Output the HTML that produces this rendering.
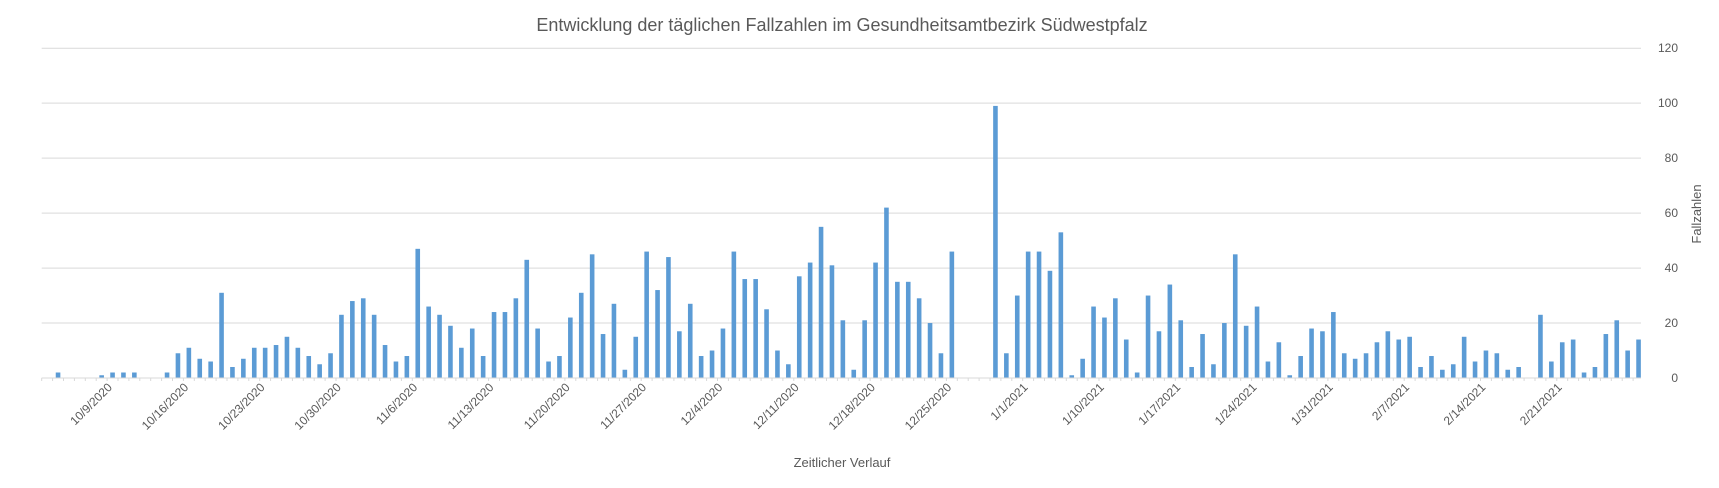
<!DOCTYPE html>
<html><head><meta charset="utf-8"><style>
html,body{margin:0;padding:0;background:#fff;}
svg{display:block;font-family:"Liberation Sans",Arial,sans-serif;}
</style></head><body>
<svg id="chart" width="1719" height="488" viewBox="0 0 1719 488" xmlns="http://www.w3.org/2000/svg">
<text x="842" y="31" text-anchor="middle" font-size="18" fill="#595959">Entwicklung der täglichen Fallzahlen im Gesundheitsamtbezirk Südwestpfalz</text>
<g id="grid"></g>
<g id="bars"></g>
<g id="xticks"></g>
<g id="yticks"></g>
<text x="842" y="467" text-anchor="middle" font-size="13" fill="#595959">Zeitlicher Verlauf</text>
<text transform="translate(1701,214) rotate(-90)" text-anchor="middle" font-size="13" fill="#595959">Fallzahlen</text>
</svg>
<script>
const values = [0,2,0,0,0,1,2,2,2,0,0,2,9,11,7,6,31,4,7,11,11,12,15,11,8,5,9,23,28,29,23,12,6,8,47,26,23,19,11,18,8,24,24,29,43,18,6,8,22,31,45,16,27,3,15,46,32,44,17,27,8,10,18,46,36,36,25,10,5,37,42,55,41,21,3,21,42,62,35,35,29,20,9,46,0,0,0,99,9,30,46,46,39,53,1,7,26,22,29,14,2,30,17,34,21,4,16,5,20,45,19,26,6,13,1,8,18,17,24,9,7,9,13,17,14,15,4,8,3,5,15,6,10,9,3,4,0,23,6,13,14,2,4,16,21,10,14];
const yTicks = [0,20,40,60,80,100,120];
const xLabels = ["10/9/2020","10/16/2020","10/23/2020","10/30/2020","11/6/2020","11/13/2020","11/20/2020","11/27/2020","12/4/2020","12/11/2020","12/18/2020","12/25/2020","1/1/2021","1/10/2021","1/17/2021","1/24/2021","1/31/2021","2/7/2021","2/14/2021","2/21/2021"];
const labelEvery = 7;
const labelOffset = 3;

const NS = "http://www.w3.org/2000/svg";
const x0 = 41.7, x1 = 1644, gridEnd = 1641, yBase = 378, yTop = 48.2, yMax = 120;
const n = values.length;
const step = (x1 - x0) / n;
function xScale(i){ return x0 + step * (i + 0.5); }
function yScale(v){ return yBase - (yBase - yTop) * v / yMax; }

const grid = document.getElementById('grid');
const yt = document.getElementById('yticks');
yTicks.forEach(function(t){
  const l = document.createElementNS(NS,'line');
  
  
  l.setAttribute('x1', x0); l.setAttribute('x2', gridEnd);
  l.setAttribute('y1', yScale(t)); l.setAttribute('y2', yScale(t));
  l.setAttribute('stroke', '#d9d9d9'); l.setAttribute('stroke-width', '1');
  grid.appendChild(l);
  const tx = document.createElementNS(NS,'text');
  
  
  tx.setAttribute('x', 1678); tx.setAttribute('y', yScale(t) + 4);
  tx.setAttribute('text-anchor', 'end'); tx.setAttribute('font-size', '12');
  tx.setAttribute('fill', '#595959');
  tx.textContent = t;
  yt.appendChild(tx);
});

const bars = document.getElementById('bars');
values.forEach(function(v, i){
  if (v <= 0) return;
  const r = document.createElementNS(NS,'rect');
  
  
  r.setAttribute('x', xScale(i) - 2.3);
  r.setAttribute('width', 4.6);
  r.setAttribute('y', yScale(v));
  r.setAttribute('height', yBase - yScale(v));
  r.setAttribute('fill', '#5b9bd5');
  bars.appendChild(r);
});

const xt = document.getElementById('xticks');
for (let i = 0; i < n; i++) {
  const tk = document.createElementNS(NS,'line');
  
  
  tk.setAttribute('x1', x0 + step * i); tk.setAttribute('x2', x0 + step * i);
  tk.setAttribute('y1', yBase); tk.setAttribute('y2', yBase + 3);
  tk.setAttribute('stroke', '#d9d9d9');
  xt.appendChild(tk);
}
xLabels.forEach(function(lbl, k){
  const i = labelOffset + k * labelEvery;
  const tx = document.createElementNS(NS,'text');
  
  
  const ax = xScale(i) + 33, ay = 388;
  tx.setAttribute('transform', 'translate(' + ax + ',' + ay + ') rotate(-45)');
  tx.setAttribute('text-anchor', 'end'); tx.setAttribute('font-size', '12');
  tx.setAttribute('fill', '#595959');
  tx.textContent = lbl;
  xt.appendChild(tx);
});
const axis = document.createElementNS(NS,'line');


axis.setAttribute('x1', x0); axis.setAttribute('x2', gridEnd);
axis.setAttribute('y1', yBase); axis.setAttribute('y2', yBase);
axis.setAttribute('stroke', '#d9d9d9');
xt.appendChild(axis);
</script>
</body></html>
